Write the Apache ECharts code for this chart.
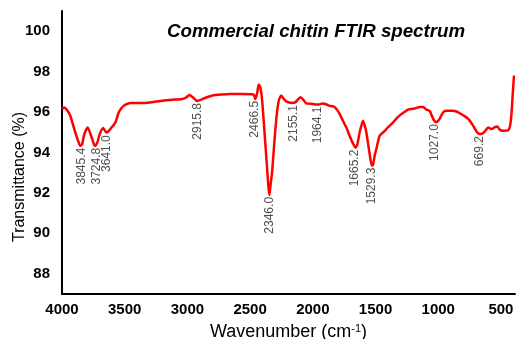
<!DOCTYPE html>
<html>
<head>
<meta charset="utf-8">
<script src="https://cdn.jsdelivr.net/npm/echarts@6/dist/echarts.min.js"></script>
<style>
  html, body { margin: 0; padding: 0; background: #fff; }
  #chart { width: 516px; height: 339px; }
</style>
</head>
<body>
<div id="chart"></div>
<script>
// spectrum: wavenumber (cm-1) and transmittance (%)
var wavenumbers = [
  4000, 3982, 3960, 3934, 3894, 3870, 3854, 3840, 3822, 3795, 3768, 3745, 3734, 3718,
  3699, 3672, 3646, 3630, 3614, 3574, 3547, 3507, 3454, 3345, 3250, 3185, 3100, 3039,
  3010, 2985, 2960, 2935, 2919, 2890, 2850, 2799, 2730, 2665, 2560, 2479, 2466, 2460,
  2445, 2431, 2418, 2404, 2386, 2367, 2354, 2346, 2337, 2324, 2306, 2287, 2271, 2252,
  2232, 2212, 2170, 2140, 2098, 2075, 2053, 2000, 1973, 1945, 1920, 1900, 1872, 1827,
  1790, 1760, 1730, 1707, 1680, 1660, 1645, 1627, 1600, 1585, 1573, 1547, 1530, 1520,
  1505, 1494, 1467, 1427, 1400, 1360, 1330, 1293, 1240, 1187, 1147, 1120, 1094, 1067,
  1054, 1035, 1020, 1009, 990, 974, 955, 934, 881, 854, 828, 790, 761, 740, 721, 689,
  670, 662, 636, 615, 601, 590, 574, 550, 529, 518, 508, 490, 476, 442, 430, 423, 415,
  406, 396
];
var transmittance = [
  96.15, 96.23, 96.1, 95.82, 94.99, 94.55, 94.33, 94.4, 94.91, 95.24, 94.83, 94.4, 94.33, 94.5,
  94.91, 95.21, 94.99, 95.05, 95.16, 95.49, 95.99, 96.32, 96.45, 96.45, 96.52, 96.57, 96.62, 96.65,
  96.72, 96.84, 96.75, 96.6, 96.55, 96.62, 96.72, 96.82, 96.87, 96.9, 96.9, 96.88, 96.8, 96.65,
  96.9, 97.36, 97.2, 96.57, 95.07, 93.42, 92.3, 91.9, 92.4, 93.08, 94.58, 95.9, 96.57, 96.82,
  96.65, 96.53, 96.45, 96.48, 96.73, 96.6, 96.43, 96.4, 96.37, 96.38, 96.43, 96.4, 96.32, 96.25,
  95.95, 95.57, 95.2, 94.83, 94.45, 94.24, 94.4, 94.99, 95.57, 95.3, 94.99, 93.92, 93.35, 93.4,
  93.9, 94.16, 94.83, 95.07, 95.25, 95.49, 95.7, 95.9, 96.12, 96.18, 96.25, 96.25, 96.12, 96.05,
  95.85, 95.6, 95.5, 95.52, 95.65, 95.85, 96.02, 96.07, 96.07, 96.03, 95.94, 95.8, 95.66, 95.5, 95.32, 94.99,
  94.91, 94.91, 94.99, 95.15, 95.24, 95.2, 95.16, 95.25, 95.29, 95.2, 95.12, 95.08, 95.07, 95.1, 95.25, 95.49, 96.0,
  96.9, 97.81
];

// labelled bands and the transmittance at each band minimum
var peakWn = [3845.4, 3724.8, 3641.0, 2915.8, 2466.5, 2346.0, 2155.1, 1964.1, 1665.2, 1529.3, 1027.0, 669.2];
var peakT = [94.33, 94.33, 94.95, 96.55, 96.65, 91.9, 96.45, 96.37, 94.24, 93.35, 95.5, 94.91];

var xTicks = [4000, 3500, 3000, 2500, 2000, 1500, 1000, 500];
var yTicks = [88, 90, 92, 94, 96, 98, 100];

var font = 'Liberation Sans, Arial, sans-serif';

var spectrum = wavenumbers.map(function(w, i) { return [w, transmittance[i]]; });
var peaks = peakWn.map(function(w, i) { return [w, peakT[i]]; });

var chart = echarts.init(document.getElementById('chart'), null, { renderer: 'canvas' });
chart.setOption({
  animation: false,
  backgroundColor: '#fff',
  title: {
    text: 'Commercial chitin FTIR spectrum',
    left: 162,
    top: 17,
    textStyle: { fontFamily: font, fontSize: 18.7, fontWeight: 'bold', fontStyle: 'italic', color: '#000' }
  },
  grid: { left: 62, right: 1, top: 11, bottom: 45, containLabel: false, outerBoundsMode: 'none' },
  xAxis: {
    type: 'value',
    inverse: true,
    min: 388,
    max: 4000,
    name: '{a|Wavenumber (cm}{s|-1}{a|)}',
    nameLocation: 'middle',
    nameGap: 29,
    nameTextStyle: {
      rich: {
        a: { fontFamily: font, fontSize: 18, color: '#000' },
        s: { fontFamily: font, fontSize: 11, color: '#000', verticalAlign: 'top' }
      }
    },
    axisLine: { lineStyle: { color: '#000', width: 2 } },
    axisTick: { show: false },
    splitLine: { show: false },
    axisLabel: {
      customValues: xTicks,
      formatter: function(v) { return String(v); },
      margin: 8,
      fontFamily: font,
      fontSize: 15,
      fontWeight: 'bold',
      color: '#000'
    }
  },
  yAxis: {
    type: 'value',
    min: 87,
    max: 101,
    axisLine: { show: true, lineStyle: { color: '#000', width: 2 } },
    axisTick: { show: false },
    splitLine: { show: false },
    axisLabel: {
      customValues: yTicks,
      margin: 12,
      fontFamily: font,
      fontSize: 15,
      fontWeight: 'bold',
      color: '#000'
    }
  },
  graphic: [{
    type: 'text',
    x: 20,
    y: 177,
    rotation: Math.PI / 2,
    style: {
      text: 'Transmittance (%)',
      fontFamily: font,
      fontSize: 16,
      fill: '#000',
      align: 'center',
      verticalAlign: 'middle'
    }
  }],
  series: [{
    type: 'line',
    data: spectrum,
    showSymbol: false,
    smooth: 0.2,
    lineStyle: { color: '#ff0000', width: 2.5 },
    z: 3
  }, {
    type: 'scatter',
    data: peaks,
    symbolSize: 0,
    label: {
      show: true,
      position: 'bottom',
      distance: 2,
      rotate: 90,
      align: 'right',
      verticalAlign: 'middle',
      fontFamily: font,
      fontSize: 12,
      color: '#222',
      formatter: function(p) { return p.value[0].toFixed(1); }
    },
    z: 4
  }]
});
</script>
</body>
</html>
